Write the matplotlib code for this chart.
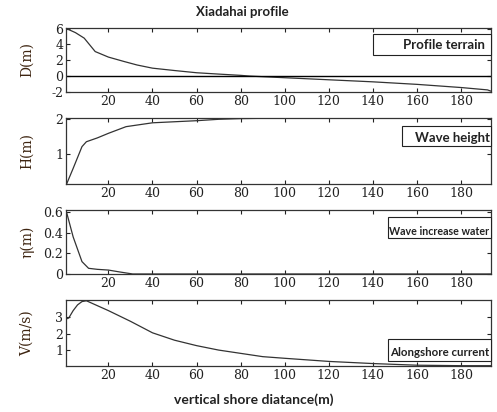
import matplotlib
matplotlib.use('Agg')
import matplotlib.pyplot as plt
from matplotlib.patches import Rectangle

# Data
dist_D = [1, 5, 9, 14, 20, 27, 33, 40, 50, 60, 70, 80, 84, 100, 120, 140, 160, 180, 192, 194]
depth = [6.0, 5.5, 4.8, 3.1, 2.4, 1.85, 1.4, 1.0, 0.7, 0.42, 0.25, 0.09, 0.0, -0.21, -0.47, -0.73, -1.05, -1.45, -1.75, -1.95]

dist_H = [1, 4, 8, 10, 15, 20, 28, 40, 50, 60, 70, 80, 92, 100, 140, 194]
wave_h = [0.15, 0.6, 1.22, 1.36, 1.47, 1.6, 1.79, 1.9, 1.93, 1.96, 2.0, 2.02, 2.03, 2.08, 2.08, 2.08]

dist_eta = [1, 4, 8, 11, 15, 20, 25, 31, 40, 100, 194]
setup = [0.6, 0.36, 0.12, 0.055, 0.045, 0.038, 0.02, 0.0, 0.0, 0.0, 0.0]

dist_V = [1, 2, 4, 6, 8, 10, 15, 20, 30, 40, 50, 60, 70, 80, 90, 100, 120, 140, 160, 180, 194]
current = [2.9, 2.95, 3.4, 3.75, 3.95, 4.0, 3.7, 3.4, 2.75, 2.05, 1.6, 1.27, 1.0, 0.8, 0.6, 0.5, 0.31, 0.18, 0.08, 0.05, 0.05]

x_ticks = [20, 40, 60, 80, 100, 120, 140, 160, 180]

fig = plt.figure(figsize=(4.97, 4.12), dpi=100)

tick_font = {'family': 'DejaVu Serif', 'size': 9}
ylab_font = {'family': 'DejaVu Serif', 'size': 10, 'color': '#3d2410'}
box_font = {'family': 'Lato', 'weight': 'bold', 'color': '#222222'}

# bottom, height, data, ylim, yticks, ylabel, legend text, box, text pos, size
panels = [
    (0.777, 0.156, dist_D, depth, (-2, 6.13), [-2, 0, 2, 4, 6], 'D(m)',
     'Profile terrain', (0.722, 0.57, 0.278, 0.326), (0.985, 0.725), 9.5),
    (0.553, 0.160, dist_H, wave_h, (0.15, 2.03), [1, 2], 'H(m)',
     'Wave height', (0.79, 0.578, 0.21, 0.309), (0.998, 0.70), 9.5),
    (0.335, 0.155, dist_eta, setup, (0, 0.62), [0, 0.2, 0.4, 0.6], 'η(m)',
     'Wave increase water', (0.758, 0.558, 0.242, 0.328), (0.995, 0.67), 7.7),
    (0.112, 0.160, dist_V, current, (0.04, 4.05), [1, 2, 3], 'V(m/s)',
     'Alongshore current', (0.758, 0.076, 0.242, 0.326), (0.995, 0.198), 8.3),
]

axes = []
for bottom, height, xs, ys, ylim, yt, ylab, name, box, tpos, fs in panels:
    ax = fig.add_axes([0.133, bottom, 0.855, height])
    ax.plot(xs, ys, color='#333333', lw=0.9)
    ax.set_xlim(0.8, 193.6)
    ax.set_ylim(*ylim)
    ax.set_xticks(x_ticks)
    ax.set_yticks(yt)
    ax.set_yticklabels([('%g' % v) for v in yt], fontdict=tick_font)
    ax.set_xticklabels([str(v) for v in x_ticks], fontdict=tick_font)
    ax.tick_params(direction='in', top=True, right=True, length=3,
                   width=0.8, pad=2, colors='#222222')
    for s in ax.spines.values():
        s.set_color('#333333')
        s.set_linewidth(0.9)
    ax.set_ylabel(ylab, fontdict=ylab_font, labelpad=2)
    ax.yaxis.set_label_coords(-0.075, 0.5)
    # text-only legend box
    ax.add_patch(Rectangle((box[0], box[1]), box[2], box[3], transform=ax.transAxes,
                           facecolor='white', edgecolor='#222222', lw=0.8,
                           zorder=5, clip_on=False))
    ax.text(tpos[0], tpos[1], name, transform=ax.transAxes, ha='right',
            va='center', fontsize=fs, zorder=6, **box_font)
    axes.append(ax)

# zero line in terrain panel
axes[0].axhline(0, color='black', lw=1)

fig.text(0.487, 0.971, 'Xiadahai profile', ha='center', va='center',
         fontsize=9.5, fontweight='bold', family='Lato', color='#222222')
fig.text(0.51, 0.03, 'vertical shore diatance(m)', ha='center', va='center',
         fontsize=10, fontweight='bold', family='Lato', color='#222222')

fig.savefig('out.png', dpi=100)
